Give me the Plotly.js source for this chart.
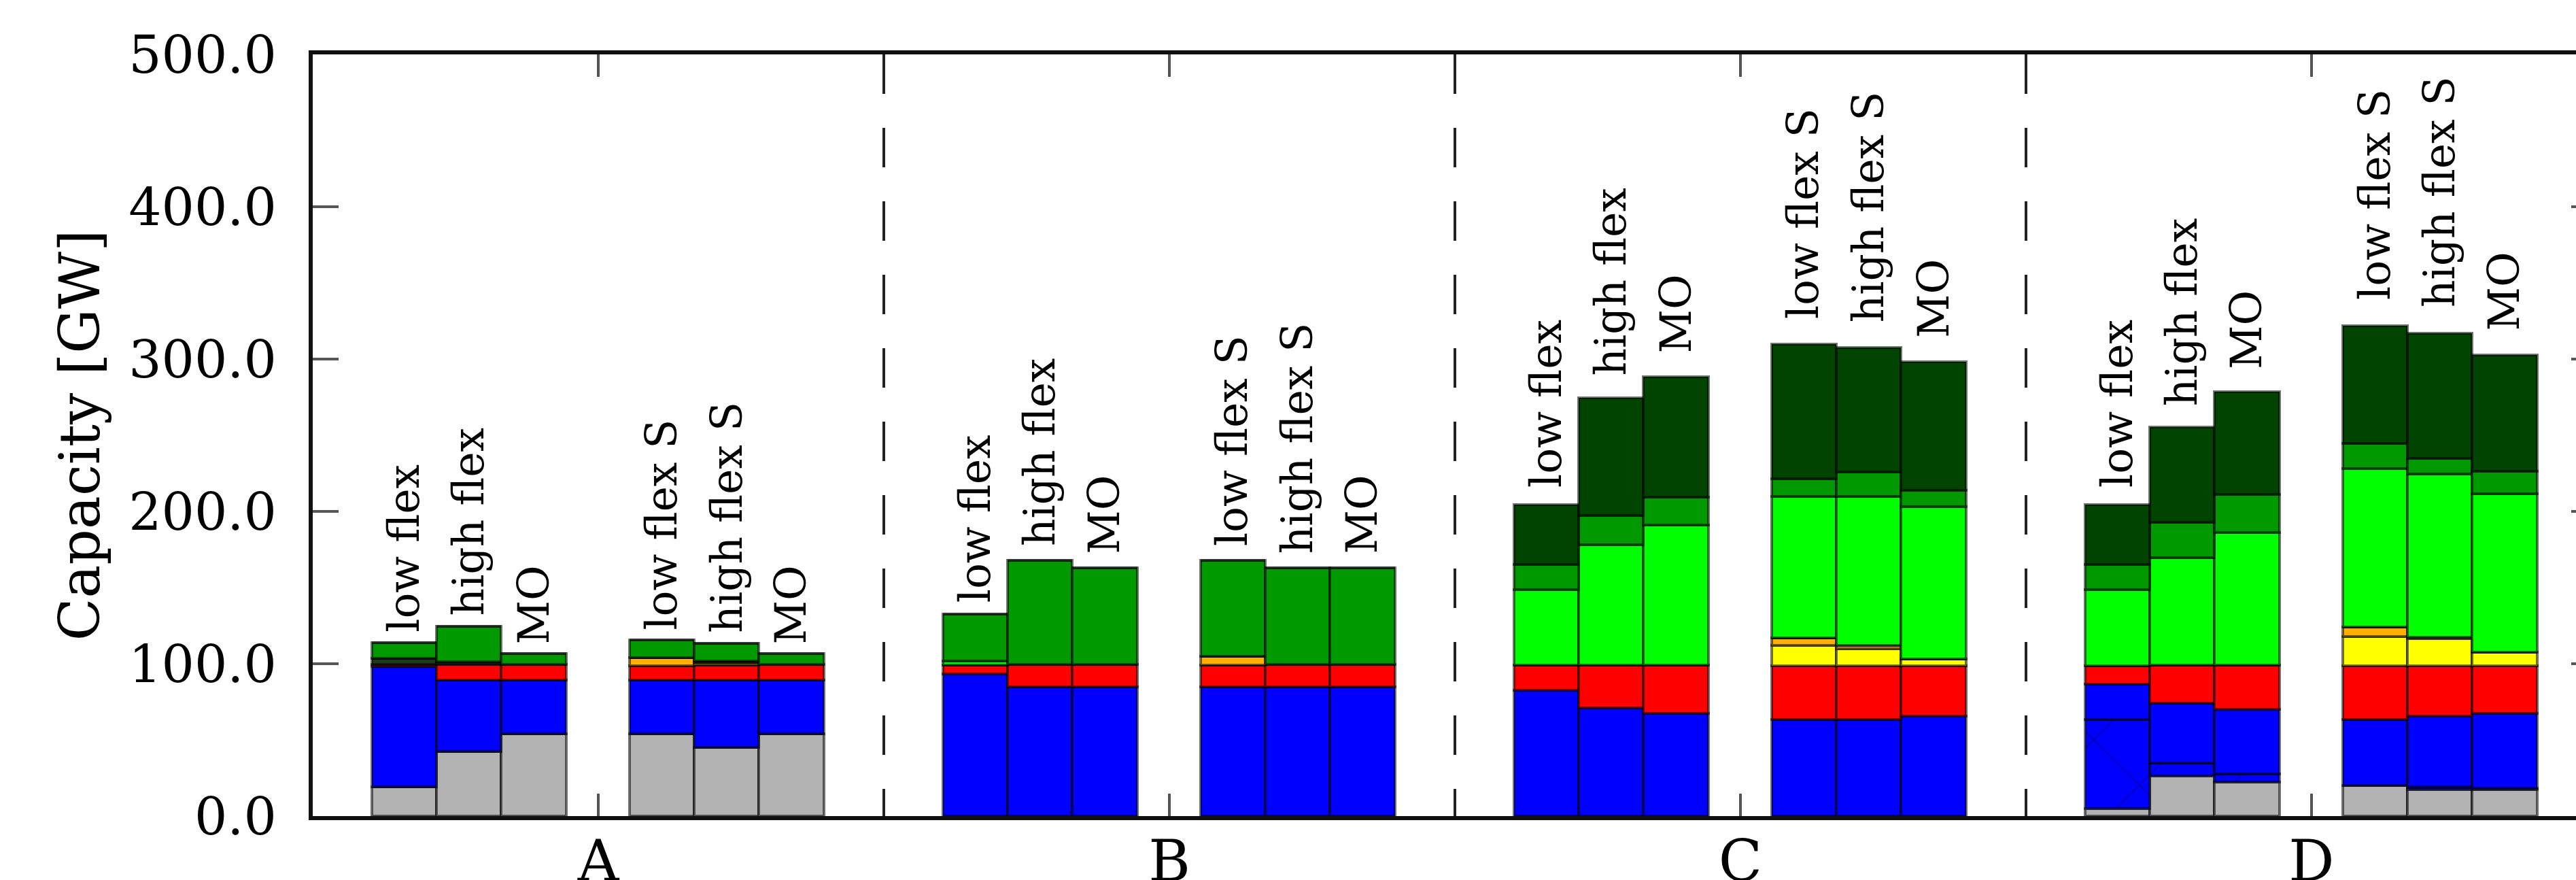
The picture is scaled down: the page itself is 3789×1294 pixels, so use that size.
<!DOCTYPE html>
<html>
<head>
<meta charset="utf-8">
<script src="https://cdn.plot.ly/plotly-3.0.1.min.js"></script>
<style>
  html, body { margin: 0; padding: 0; overflow: hidden; background: #fff; }
  #chart { width: 3900px; height: 1294px; }
</style>
</head>
<body>
<div id="chart"></div>
<script>
// ---------------- data ----------------
const categories = ['A', 'B', 'C', 'D'];
const scenarios = ['low flex', 'high flex', 'MO', 'low flex S', 'high flex S', 'MO'];

// capacities in GW, 6 values per category (order of `scenarios`), categories A..D
const grey        = [19, 42.5, 54, 54, 45, 54,    0, 0, 0, 0, 0, 0,            0, 0, 0, 0, 0, 0,                 5, 26.5, 22.5, 20, 17.5, 17.5];
const blueHatched = [0, 0, 0, 0, 0, 0,            0, 0, 0, 0, 0, 0,            0, 0, 0, 0, 0, 0,                 58.5, 8.5, 5, 0, 1.5, 1];
const blue        = [79, 47, 35.5, 35.5, 44.5, 35.5, 93.5, 85, 85, 85, 85, 85, 82.5, 71, 67.5, 63.5, 63.5, 65.5,    23, 39, 42.5, 43.5, 46.5, 49];
const red         = [1.5, 10, 10, 9, 9.5, 10,     5.5, 14.5, 14.5, 14, 14.5, 14.5, 16.5, 28, 31.5, 35, 35, 33,      12, 25, 29, 35, 33, 31];
const yellow      = [0, 0, 0, 0, 0, 0,            0, 0, 0, 0, 0, 0,            0, 0, 0, 13.5, 11.5, 4.5,         0, 0, 0, 19.5, 18, 9];
const orange      = [0, 0, 0, 5.5, 1.5, 0,        0, 0, 0, 6, 0, 0,            0, 0, 0, 5, 2, 0,                 0, 0, 0, 6, 1, 0];
const darkOther   = [4, 2, 0, 0, 1.5, 0,          0, 0, 0, 0, 0, 0,            0, 0, 0, 0, 0, 0,                 0, 0, 0, 0, 0, 0];
const lime        = [0, 0, 0, 0, 0, 0,            3, 0, 0, 0, 0, 0,            49.5, 79, 92, 93, 98, 100,        50, 70.5, 87, 104, 107, 104];
const green       = [10.5, 23, 7, 11.5, 11.5, 7,  30.5, 68.5, 63.5, 63, 63.5, 63.5, 16.5, 19.5, 18.5, 11.5, 16, 11, 16.5, 23.5, 25, 16.5, 10.5, 15];
const darkGreen   = [0, 0, 0, 0, 0, 0,            0, 0, 0, 0, 0, 0,            39.5, 77, 79, 88.5, 81.5, 84,     39.5, 62.5, 67.5, 77.5, 82, 76];

// ---------------- layout helpers ----------------
const BAR_W = 0.1135;
const xPos = [];
const labels = [];
categories.forEach((c, ci) => {
  scenarios.forEach((s, si) => {
    const g = si >= 3 ? 0.2245 : -0.2265;
    const k = si % 3;
    xPos.push(ci + g + (k - 1) * BAR_W);
    labels.push(s);
  });
});

const edge = { color: 'rgba(0,0,0,0.55)', width: 4 };
const seriesDefs = [
  { name: 'grey', y: grey, color: '#b3b3b3' },
  { name: 'blue hatched', y: blueHatched, color: '#0000ff',
    pattern: { shape: 'x', fgcolor: '#00005a', bgcolor: '#0000ff', size: 95, solidity: 0.03, fillmode: 'overlay' } },
  { name: 'blue', y: blue, color: '#0000ff' },
  { name: 'red', y: red, color: '#ff0000' },
  { name: 'yellow', y: yellow, color: '#ffff00' },
  { name: 'orange', y: orange, color: '#ffb000' },
  { name: 'dark', y: darkOther, color: '#1c3a1c' },
  { name: 'lime', y: lime, color: '#00ff00' },
  { name: 'green', y: green, color: '#009900' },
  { name: 'dark green', y: darkGreen, color: '#004400' }
];

const traces = seriesDefs.map(d => {
  const m = { color: d.color, line: edge };
  if (d.pattern) m.pattern = d.pattern;
  return {
    type: 'bar', name: d.name, x: xPos, y: d.y, width: BAR_W,
    marker: m, hoverinfo: 'skip', showlegend: false
  };
});

// totals for label placement
const totals = xPos.map((_, i) => seriesDefs.reduce((a, d) => a + d.y[i], 0));

const FONT = 'DejaVu Serif, Liberation Serif, serif';
const annotations = xPos.map((x, i) => ({
  x: x, y: totals[i] * 1.05, xref: 'x', yref: 'y',
  text: labels[i], textangle: -90, showarrow: false,
  xanchor: 'center', yanchor: 'bottom',
  font: { family: FONT, size: 63, color: '#000' }
}));

const shapes = [0.5, 1.5, 2.5, 3.5].map(x => ({
  type: 'line', xref: 'x', yref: 'y', x0: x, x1: x, y0: 500, y1: 0,
  line: { color: '#222', width: 4, dash: '58px,50px' }
}));

const layout = {
  width: 3900, height: 1294, autosize: false,
  margin: { l: 460, r: 80, t: 80, b: 94, pad: 0 },
  paper_bgcolor: '#fff', plot_bgcolor: '#fff',
  barmode: 'stack', bargap: 0,
  font: { family: FONT, color: '#000' },
  xaxis: {
    range: [-0.5, 3.5], tickvals: [0, 1, 2, 3], ticktext: categories,
    showgrid: false, zeroline: false,
    showline: true, linecolor: '#111', linewidth: 6, mirror: 'ticks',
    ticks: 'inside', ticklen: 33, tickwidth: 4, tickcolor: '#555',
    ticklabelstandoff: -12,
    tickfont: { family: FONT, size: 84, color: '#000' }
  },
  yaxis: {
    range: [0, 500], tickvals: [0, 100, 200, 300, 400, 500],
    tickformat: '.1f',
    showgrid: false, zeroline: false,
    showline: true, linecolor: '#111', linewidth: 6, mirror: 'ticks',
    ticks: 'inside', ticklen: 38, tickwidth: 4, tickcolor: '#555',
    ticklabelstandoff: 32,
    tickfont: { family: FONT, size: 76, color: '#000' },
    title: { text: 'Capacity [GW]', font: { family: FONT, size: 82, color: '#000' }, standoff: 18 }
  },
  annotations: annotations,
  shapes: shapes
};

Plotly.newPlot('chart', traces, layout, { staticPlot: true, displayModeBar: false });
</script>
</body>
</html>
